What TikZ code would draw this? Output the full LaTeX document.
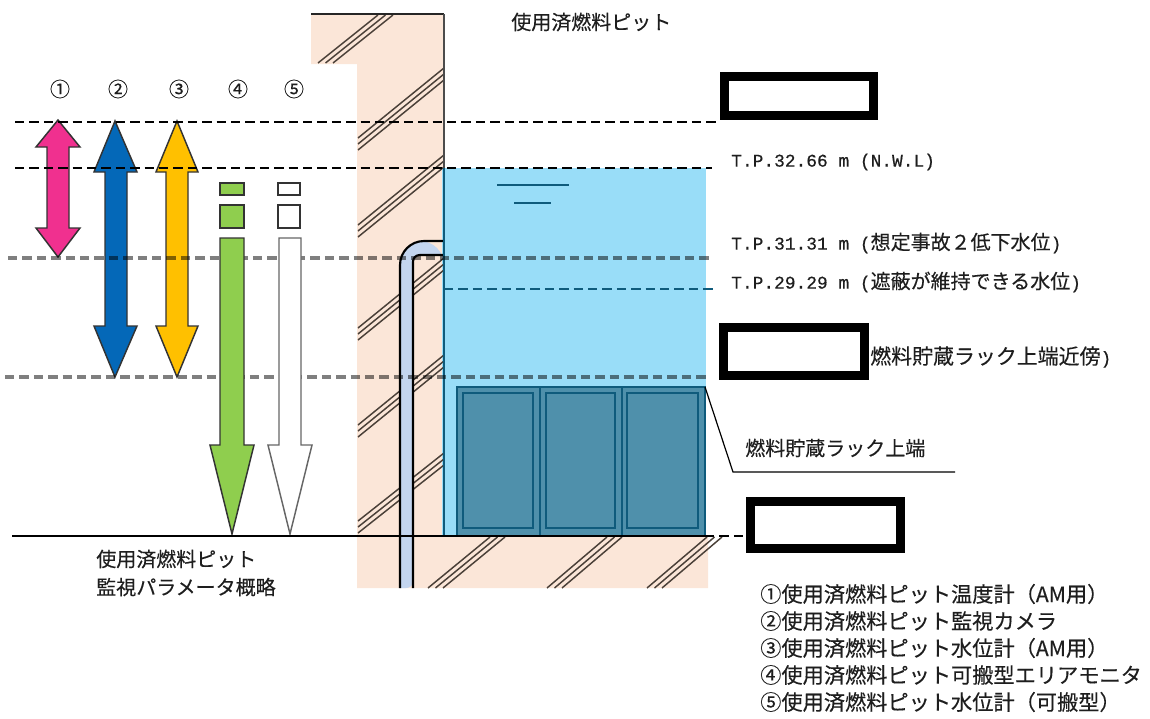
\documentclass[tikz,border=0pt]{standalone}
\usepackage{fontspec}
\setmainfont[FakeBold=0.25]{Noto Sans CJK JP}
\newfontfamily\tpfont[FakeBold=0.4]{Liberation Mono}
\usetikzlibrary{positioning}
\definecolor{wallcol}{HTML}{FBE6D8}
\definecolor{watercol}{HTML}{99DDF8}
\definecolor{rackcol}{HTML}{4F90AB}
\definecolor{rackline}{HTML}{0F5B7C}
\definecolor{pipecol}{HTML}{C3D5EF}
\definecolor{pinkcol}{HTML}{F0308F}
\definecolor{bluecol}{HTML}{0468B8}
\definecolor{orangecol}{HTML}{FFC000}
\definecolor{greencol}{HTML}{8FCE4E}
\definecolor{hatchcol}{HTML}{4A4038}
\definecolor{txtcol}{HTML}{1E1E1E}
\tikzset{
  hatchline/.style={color=hatchcol,line width=1.1pt},
  marrow/.style={draw=black!80,line width=1.1pt,line join=miter},
  blackbox/.style={draw=black,fill=white,line width=6.75pt,inner sep=0pt},
  lvldash/.style={dashed,dash pattern=on 7pt off 3.8pt,line width=1.1pt,black},
  graydash/.style={dashed,dash pattern=on 7pt off 3.8pt,line width=2.4pt,black,draw opacity=0.5},
  rackbox/.style={draw=rackline,line width=1.3pt},
  lbl/.style={inner sep=0pt,anchor=west,text=txtcol,font=\fontsize{15}{15}\selectfont},
  leglbl/.style={lbl,font=\fontsize{15.9}{15}\selectfont},
  tplbl/.style={lbl,font=\fontsize{13.4}{15}\selectfont\tpfont}
}

\begin{document}
\begin{tikzpicture}[x=0.75pt,y=-0.75pt]
\useasboundingbox (0,0) rectangle (1150,718);

\fill[wallcol] (311,14) -- (444,14) -- (444,536) -- (708,536) -- (708,588) -- (357,588) -- (357,64) -- (311,64) -- cycle;
\fill[watercol] (442,168) rectangle (706,536);

\foreach \xa/\ya/\xb/\yb/\dx/\dy in {318/63/378/15/7.5/0,358/138/444/68/0/6,358/225/444/155/0/6,358/328/444/258/0/6,
  358/425/444/355/0/6,358/521/444/453/0/6,428/588/490/537/7.5/0,547/588/607/537/7.5/0,647/588/707/537/7.5/0}
  \foreach \k in {0,1,2}
    \draw[hatchline] (\xa+\k*\dx,\ya+\k*\dy) -- (\xb+\k*\dx,\yb+\k*\dy);

\fill[watercol] (444,168) rectangle (706,387);

\fill[pipecol] (400,588) [rounded corners=18pt] -- (400,241) -- (444,241) [sharp corners] -- (444,255) [rounded corners=5pt] -- (413,255) -- (413,588) [sharp corners] -- cycle;
\draw[line width=1.6pt] (400,588) [rounded corners=18pt] -- (400,241) -- (444,241);
\draw[line width=1.6pt] (413,588) [rounded corners=5pt] -- (413,255) -- (444,255);

\draw[rackbox,fill=rackcol] (457,387) rectangle (705,536);
\draw[rackbox] (540,387) -- (540,536);
\draw[rackbox] (622,387) -- (622,536);
\draw[rackbox] (463,393) rectangle (533,528);
\draw[rackbox] (546,393) rectangle (615,528);
\draw[rackbox] (627,393) rectangle (698,528);

\draw[line width=1pt,color=black!85] (311,14) -- (444,14);
\draw[line width=1.1pt,color=black!70] (444,14) -- (444,168);
\draw[line width=1.5pt,color=rackline] (444,168) -- (444,536);
\draw[line width=1.1pt,color=rackline] (497,185) -- (569,185);
\draw[line width=1.1pt,color=rackline] (514,203) -- (551,203);

\draw[marrow,fill=pinkcol] (58,120) -- (80,147) -- (69,147) -- (69,228) -- (80,228) -- (58,257) -- (36,228) -- (47,228) -- (47,147) -- (36,147) -- cycle;
\draw[marrow,fill=bluecol] (115,121) -- (137,172) -- (127,172) -- (127,326) -- (137,326) -- (115,377) -- (94,326) -- (105,326) -- (105,172) -- (94,172) -- cycle;
\draw[marrow,fill=orangecol] (177,121) -- (198,172) -- (188,172) -- (188,326) -- (198,326) -- (177,377) -- (156,326) -- (166,326) -- (166,172) -- (156,172) -- cycle;

\coordinate (lva) at (15,122);
\coordinate (lvae) at (718,122);
\coordinate (lvb) at (15,168);
\coordinate (lvbe) at (712,168);
\coordinate (lvc) at (8,258);
\coordinate (lvce) at (713,258);
\coordinate (lvd) at (444,289);
\coordinate (lvde) at (716,289);
\coordinate (lve) at (5,377);
\coordinate (lvee) at (710,377);
\draw[lvldash] (lva) -- (lvae);
\draw[lvldash] (lvb) -- (lvbe);
\draw[graydash] (lvc) -- (lvce);
\draw[lvldash,color=rackline] (lvd) -- (lvde);
\draw[graydash] (lve) -- (lvee);

\draw[marrow,fill=greencol] (220,183) rectangle (244,195);
\draw[marrow,fill=greencol] (220,205) rectangle (244,228);
\draw[marrow,fill=greencol] (220,238) -- (244,238) -- (244,445) -- (254,445) -- (232,534) -- (210,445) -- (220,445) -- cycle;
\draw[marrow,fill=white] (278,183) rectangle (300,195);
\draw[marrow,fill=white] (278,205) rectangle (300,228);
\draw[marrow,fill=white,draw=black!60] (279,238) -- (301,238) -- (301,445) -- (312,445) -- (290,534) -- (268,445) -- (279,445) -- cycle;

\coordinate (basea) at (12,536);
\coordinate (baseb) at (705,536);
\coordinate (basec) at (745,536);
\draw[line width=1.1pt] (basea) -- (baseb);
\draw[line width=1.1pt,dashed,dash pattern=on 7pt off 3.8pt] (baseb) -- (basec);

\coordinate (leada) at (705,387);
\coordinate (leadb) at (733,472);
\coordinate (leadc) at (955,472);
\draw[line width=0.9pt] (leada) -- (leadb) -- (leadc);

\node [blackbox,minimum width=111.75pt,minimum height=29pt] (boxa) at (799,96) {};
\node [blackbox,minimum width=105.75pt,minimum height=36pt] (boxb) at (794,351.5) {};
\node [blackbox,minimum width=112.5pt,minimum height=35pt] (boxc) at (825.5,525) {};

\node [lbl] (title) at (511,22) {使用済燃料ピット};
\node [lbl,anchor=center] (numa) at (60,89) {①};
\node [lbl,anchor=center] (numb) at (118,89) {②};
\node [lbl,anchor=center] (numc) at (179,89) {③};
\node [lbl,anchor=center] (numd) at (238,89) {④};
\node [lbl,anchor=center] (nume) at (294,89) {⑤};

\node [tplbl] (tpa) at (731,162) {T.P.32.66 m (N.W.L)};
\node [lbl] (tpb) at (731,243) {{\tpfont\fontsize{13.4}{15}\selectfont T.P.31.31 m (}想定事故２低下水位{\tpfont\fontsize{13.4}{15}\selectfont )}};
\node [lbl] (tpc) at (731,282) {{\tpfont\fontsize{13.4}{15}\selectfont T.P.29.29 m (}遮蔽が維持できる水位{\tpfont\fontsize{13.4}{15}\selectfont )}};
\node [lbl,font=\fontsize{15.7}{15}\selectfont] (racknear) at (870,357) {燃料貯蔵ラック上端近傍{\tpfont\fontsize{13.4}{15}\selectfont )}};
\node [lbl] (racktop) at (745,448) {燃料貯蔵ラック上端};

\node [lbl] (capa) at (96,559) {使用済燃料ピット};
\node [lbl] (capb) at (96,587) {監視パラメータ概略};

\node [leglbl] (lega) at (760,594) {①使用済燃料ピット温度計（AM用）};
\node [leglbl] (legb) at (760,621) {②使用済燃料ピット監視カメラ};
\node [leglbl] (legc) at (760,648) {③使用済燃料ピット水位計（AM用）};
\node [leglbl] (legd) at (760,675) {④使用済燃料ピット可搬型エリアモニタ};
\node [leglbl] (lege) at (760,702) {⑤使用済燃料ピット水位計（可搬型）};

\end{tikzpicture}
\end{document}
